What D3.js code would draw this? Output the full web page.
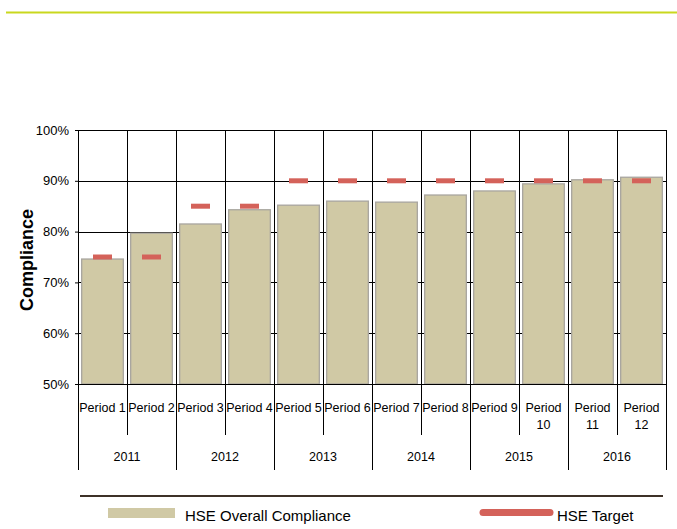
<!DOCTYPE html>
<html>
<head>
<meta charset="utf-8">
<script src="https://cdn.jsdelivr.net/npm/d3@7"></script>
<style>
  body { margin: 0; background: #fff; }
  svg { display: block; font-family: "Liberation Sans", Arial, sans-serif; }
</style>
</head>
<body>
<svg id="chart" width="677" height="529"></svg>
<script>
const periods = ["Period 1","Period 2","Period 3","Period 4","Period 5","Period 6","Period 7","Period 8","Period 9","Period 10","Period 11","Period 12"];
const years = ["2011","2012","2013","2014","2015","2016"];
const compliance = [74.6, 79.7, 81.5, 84.3, 85.2, 86.0, 85.8, 87.2, 88.0, 89.4, 90.2, 90.7];
const target = [75, 75, 85, 85, 90, 90, 90, 90, 90, 90, 90, 90];
const yTicks = [50, 60, 70, 80, 90, 100];

const svg = d3.select("#chart");
const L = 78, R = 666, T = 130, B = 384;

const x = d3.scaleBand().domain(periods).range([L, R]).paddingInner(0).paddingOuter(0);
const y = d3.scaleLinear().domain([50, 100]).range([B, T]);

// top green rule
svg.append("line").attr("x1", 6).attr("x2", 677).attr("y1", 12.5).attr("y2", 12.5)
  .attr("stroke", "#c9d81e").attr("stroke-width", 2);

// horizontal gridlines + y axis
const yAxis = d3.axisLeft(y).tickValues(yTicks).tickFormat(d => d + "%").tickSize(3).tickPadding(6);
const gy = svg.append("g").attr("transform", `translate(${L},0)`).call(yAxis);
gy.select(".domain").attr("stroke", "#000");
gy.selectAll(".tick line").attr("stroke", "#000");
gy.selectAll(".tick text").attr("font-size", 13).attr("fill", "#000")
  .attr("font-family", "'Liberation Sans', Arial, sans-serif");

svg.append("g").selectAll("line").data(yTicks.filter(d => d > 50)).join("line")
  .attr("x1", L).attr("x2", R)
  .attr("y1", d => Math.round(y(d)) + 0.5).attr("y2", d => Math.round(y(d)) + 0.5)
  .attr("stroke", "#000").attr("stroke-width", 1);

// vertical gridlines at category boundaries
const bounds = periods.map(p => x(p)).concat([R]);
svg.append("g").selectAll("line").data(bounds.slice(1)).join("line")
  .attr("x1", d => Math.round(d) + 0.5).attr("x2", d => Math.round(d) + 0.5)
  .attr("y1", T).attr("y2", B)
  .attr("stroke", "#000").attr("stroke-width", 1);

// bars
const bw = x.bandwidth() * 0.85;
svg.append("g").selectAll("rect").data(compliance).join("rect")
  .attr("x", (d, i) => x(periods[i]) + (x.bandwidth() - bw) / 2)
  .attr("y", d => y(d))
  .attr("width", bw)
  .attr("height", d => B - y(d))
  .attr("fill", "#d0c9a5")
  .attr("stroke", "#a8a59f")
  .attr("stroke-width", 1.3);

// target markers
const tw = 19;
svg.append("g").selectAll("line").data(target).join("line")
  .attr("x1", (d, i) => x(periods[i]) + x.bandwidth() / 2 - tw / 2)
  .attr("x2", (d, i) => x(periods[i]) + x.bandwidth() / 2 + tw / 2)
  .attr("y1", d => y(d)).attr("y2", d => y(d))
  .attr("stroke", "#d4625a").attr("stroke-width", 5);

// baseline
svg.append("line").attr("x1", L - 3).attr("x2", R).attr("y1", B + 0.5).attr("y2", B + 0.5)
  .attr("stroke", "#000").attr("stroke-width", 1);

// category axis lines
const cat = svg.append("g");
bounds.forEach((b, i) => {
  const isYear = i % 2 === 0;
  cat.append("line")
    .attr("x1", Math.round(b) + 0.5).attr("x2", Math.round(b) + 0.5)
    .attr("y1", B).attr("y2", isYear ? 470 : 435)
    .attr("stroke", "#000").attr("stroke-width", 1);
});

// period labels
periods.forEach((p, i) => {
  const cx = x(p) + x.bandwidth() / 2;
  const parts = p.split(" ");
  const num = +parts[1];
  const t = cat.append("text").attr("text-anchor", "middle").attr("font-size", 12.5).attr("fill", "#000");
  if (num < 10) {
    t.attr("x", cx).attr("y", 412).text(p);
  } else {
    t.append("tspan").attr("x", cx).attr("y", 412).text(parts[0]);
    t.append("tspan").attr("x", cx).attr("y", 429).text(parts[1]);
  }
});

// year labels
years.forEach((yr, i) => {
  const cx = (bounds[i * 2] + bounds[i * 2 + 2]) / 2;
  cat.append("text").attr("x", cx).attr("y", 461).attr("text-anchor", "middle")
    .attr("font-size", 12.5).attr("fill", "#000").text(yr);
});

// y axis title
svg.append("text").attr("transform", `translate(33,${(T + B) / 2 + 3}) rotate(-90)`)
  .attr("text-anchor", "middle").attr("font-size", 18).attr("font-weight", "bold")
  .attr("fill", "#000").text("Compliance");

// legend divider
svg.append("line").attr("x1", 80).attr("x2", 663).attr("y1", 496).attr("y2", 496)
  .attr("stroke", "#3e3128").attr("stroke-width", 2);

// legend
svg.append("rect").attr("x", 108).attr("y", 508).attr("width", 67).attr("height", 10).attr("fill", "#d0c9a5");
svg.append("text").attr("x", 185).attr("y", 521).attr("font-size", 15).attr("fill", "#000").text("HSE Overall Compliance");
svg.append("line").attr("x1", 483).attr("x2", 550).attr("y1", 512.5).attr("y2", 512.5)
  .attr("stroke", "#d4625a").attr("stroke-width", 7).attr("stroke-linecap", "round");
svg.append("text").attr("x", 557).attr("y", 521).attr("font-size", 15).attr("fill", "#000").text("HSE Target");
</script>
</body>
</html>
